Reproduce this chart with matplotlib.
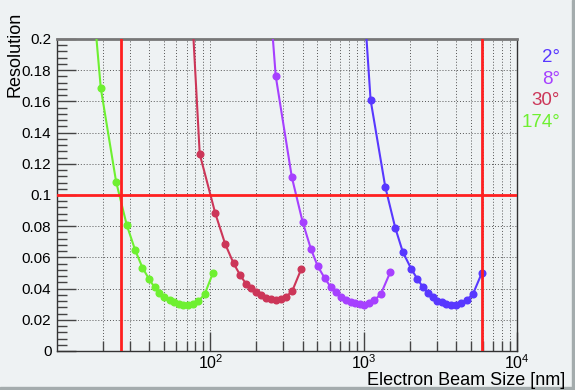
import numpy as np
import matplotlib.pyplot as plt
from matplotlib.ticker import MultipleLocator, LogLocator, NullFormatter

plt.rcParams['font.family'] = ['Liberation Sans', 'DejaVu Sans']
plt.rcParams['mathtext.fontset'] = 'custom'
plt.rcParams['mathtext.rm'] = 'Liberation Sans'
plt.rcParams['mathtext.it'] = 'Liberation Sans:italic'

# beam size [nm] vs resolution, one curve per crossing angle
size_174 = [16.0, 19.3, 24.3, 28.5, 32.4, 36.1, 39.7, 43.3, 46.6, 50.2, 54.2, 58.3,
            62.2, 66.4, 71.6, 77.1, 83.6, 91.8, 104]
res_174 = [0.26, 0.1686, 0.1085, 0.0808, 0.0645, 0.0534, 0.0464, 0.0408, 0.0374, 0.0344,
           0.0325, 0.0312, 0.0299, 0.0295, 0.0295, 0.0299, 0.032, 0.0363, 0.050]

size_30 = [72.0, 85.3, 107.7, 125, 141.8, 156.8, 170.7, 184.6, 199, 214, 231, 249, 268,
           289, 312, 343, 392]
res_30 = [0.26, 0.1263, 0.0883, 0.0686, 0.0562, 0.0485, 0.0432, 0.0402, 0.0378, 0.0359,
          0.0342, 0.0331, 0.0327, 0.0333, 0.0346, 0.0387, 0.0526]

size_8 = [230, 267, 340, 400, 453, 502, 558, 608, 658, 713, 772, 828, 884, 943, 1010,
          1088, 1173, 1295, 1489]
res_8 = [0.26, 0.1763, 0.1115, 0.0827, 0.0654, 0.0543, 0.0466, 0.0412, 0.0378, 0.0348,
         0.0327, 0.0314, 0.0306, 0.0299, 0.0297, 0.0308, 0.0325, 0.0365, 0.0504]

size_2 = [950, 1110, 1383, 1607, 1800, 2040, 2244, 2444, 2633, 2838, 3027, 3224, 3458,
          3709, 3975, 4283, 4688, 5152, 5898]
res_2 = [0.26, 0.1609, 0.1053, 0.079, 0.0635, 0.0528, 0.046, 0.0408, 0.037, 0.0344,
         0.0323, 0.0312, 0.0301, 0.0295, 0.0293, 0.0306, 0.0327, 0.0363, 0.050]

cut_lo = 26
cut_hi = 5930
cut_res = 0.1

bg = '#eef2f3'
fig = plt.figure(figsize=(5.75, 3.9), dpi=100, facecolor=bg)
ax = fig.add_axes([0.0991, 0.1, 0.80, 0.80], facecolor=bg)

curves = [
    (size_174, res_174, '#6ef030'),
    (size_30, res_30, '#cc3658'),
    (size_8, res_8, '#a640ff'),
    (size_2, res_2, '#5838ff'),
]
for xs, ys, c in curves:
    ax.plot(xs, ys, color=c, lw=1.5, marker='o', ms=4.8, zorder=3)

ax.axvline(cut_lo, color='#ff2020', lw=2, zorder=4)
ax.axvline(cut_hi, color='#ff2020', lw=2, zorder=4)
ax.axhline(cut_res, color='#ff2020', lw=2, zorder=4)

ax.set_xscale('log')
ax.set_xlim(10, 1e4)
ax.set_ylim(0, 0.2)

ax.xaxis.set_minor_locator(LogLocator(base=10, subs=np.arange(2, 10), numticks=20))
ax.xaxis.set_minor_formatter(NullFormatter())
ax.yaxis.set_minor_locator(MultipleLocator(0.004))
ax.set_yticks(np.arange(0, 0.201, 0.02))
ax.set_yticklabels(['0', '0.02', '0.04', '0.06', '0.08', '0.1', '0.12', '0.14',
                    '0.16', '0.18', '0.2'])
ax.set_xticks([100, 1000, 10000])
ax.set_xticklabels([r'$\mathregular{10^{2}}$', r'$\mathregular{10^{3}}$',
                    r'$\mathregular{10^{4}}$'])

ax.tick_params(axis='both', which='major', direction='in', length=14, width=1,
               color='#444444', labelsize=11)
ax.tick_params(axis='x', which='major', labelsize=11.5, pad=1.5)
ax.tick_params(axis='both', which='minor', direction='in', length=7, width=1,
               color='#444444')
ax.tick_params(axis='x', which='both', top=False)
ax.tick_params(axis='y', which='both', right=False, pad=4)

ax.grid(True, which='major', axis='both', ls=(0, (1, 2)), color='#555555', lw=0.7)
ax.grid(True, which='minor', axis='x', ls=(0, (1, 2)), color='#555555', lw=0.7)

for side in ['left', 'bottom', 'right']:
    ax.spines[side].set_color('#333333')
    ax.spines[side].set_linewidth(1)
ax.spines['top'].set_color('#777777')
ax.spines['top'].set_linewidth(2)

fig.text(0.012, 0.97, 'Resolution', rotation=90, ha='left', va='top', fontsize=13)
fig.text(0.983, 0.0128, 'Electron Beam Size [nm]', ha='right', va='baseline', fontsize=13)

labels = [('2°', '#5838ff'), ('8°', '#a640ff'), ('30°', '#cc3658'), ('174°', '#6ef030')]
for i, (t, c) in enumerate(labels):
    fig.text(0.974, 0.853 - i * 0.0559, t, color=c, ha='right', va='center', fontsize=13.5)

# canvas border
fig.patches.append(plt.Rectangle((0, 0), 1, 0.008, transform=fig.transFigure,
                                 color='#a4acad', zorder=0))
fig.patches.append(plt.Rectangle((0.995, 0), 0.005, 1, transform=fig.transFigure,
                                 color='#a4acad', zorder=0))

fig.savefig('out.png', dpi=100, facecolor=bg)
